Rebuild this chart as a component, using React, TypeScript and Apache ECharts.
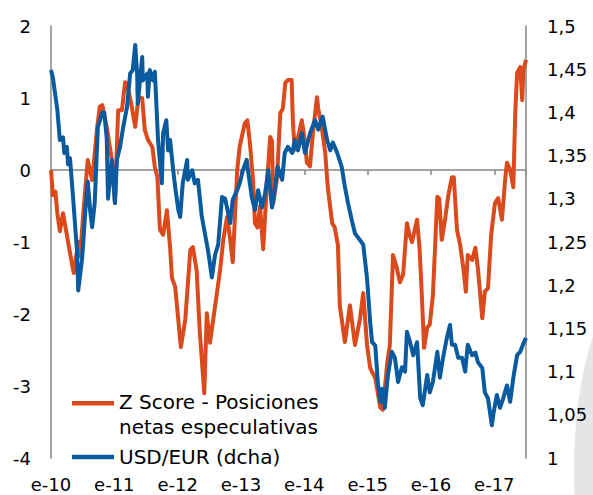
import React, { useEffect, useRef } from "react";
import * as echarts from "echarts";

// ---- Data (decimal years, values) ----
const zScoreDates = [
  2010.0, 2010.03, 2010.07, 2010.1, 2010.14, 2010.19, 2010.22, 2010.27, 2010.33, 2010.36,
  2010.43, 2010.46, 2010.51, 2010.58, 2010.65, 2010.73, 2010.77, 2010.81, 2010.88, 2010.96,
  2011.01, 2011.06, 2011.12, 2011.17, 2011.2, 2011.26, 2011.33, 2011.38, 2011.44, 2011.48,
  2011.53, 2011.6, 2011.64, 2011.68, 2011.72, 2011.77, 2011.83, 2011.88, 2011.91, 2011.96,
  2012.0, 2012.05, 2012.12, 2012.2, 2012.24, 2012.3, 2012.35, 2012.42, 2012.46, 2012.51,
  2012.59, 2012.67, 2012.72, 2012.78, 2012.82, 2012.87, 2012.94, 2012.98, 2013.06, 2013.1,
  2013.14, 2013.19, 2013.22, 2013.26, 2013.3, 2013.35, 2013.41, 2013.46, 2013.49, 2013.51,
  2013.57, 2013.62, 2013.66, 2013.7, 2013.74, 2013.8, 2013.82, 2013.85, 2013.9, 2013.96,
  2014.01, 2014.04, 2014.09, 2014.14, 2014.2, 2014.22, 2014.28, 2014.33, 2014.37, 2014.44,
  2014.48, 2014.53, 2014.56, 2014.64, 2014.72, 2014.8, 2014.88, 2014.93, 2014.99, 2015.04,
  2015.12, 2015.2, 2015.24, 2015.31, 2015.35, 2015.4, 2015.46, 2015.51, 2015.56, 2015.62,
  2015.66, 2015.7, 2015.78, 2015.82, 2015.86, 2015.89, 2015.94, 2015.98, 2016.03, 2016.1,
  2016.13, 2016.17, 2016.22, 2016.27, 2016.33, 2016.36, 2016.41, 2016.46, 2016.51, 2016.55,
  2016.58, 2016.65, 2016.7, 2016.74, 2016.81, 2016.85, 2016.9, 2016.95, 2017.01, 2017.06,
  2017.12, 2017.17, 2017.2, 2017.25, 2017.3, 2017.33, 2017.36, 2017.41, 2017.44, 2017.46,
  2017.5,
];
const zScoreValues = [
  0.0, -0.35, -0.3, -0.6, -0.85, -0.6, -0.75, -1.0, -1.3, -1.43,
  -1.0, -1.2, -0.6, 0.14, -0.14, 0.6, 0.88, 0.9, 0.6, 0.14,
  -0.46, 0.83, 0.83, 1.22, 1.2, 0.95, 0.6, 1.0, 1.0, 0.56,
  0.42, 0.32, 0.04, -0.1, -0.83, -0.9, -0.56, -1.07, -1.5, -1.62,
  -1.99, -2.46, -2.08, -1.11, -1.07, -1.4, -2.26, -3.1, -1.99, -2.4,
  -1.9, -1.39, -0.97, -0.65, -0.9, -1.28, 0.0, 0.33, 0.65, 0.69,
  0.38, -0.14, -0.74, -0.8, -0.5, -1.1, -0.2, 0.46, 0.4, -0.46,
  -0.1, 0.79, 0.85, 1.21, 1.25, 1.25, 0.65, 0.28, 0.45, 0.69,
  0.4, 0.1, 0.05, 0.56, 1.01, 0.85, 0.56, 0.24, -0.24, -0.74,
  -0.8, -1.04, -1.88, -2.39, -1.88, -2.43, -2.06, -1.71, -2.43, -2.75,
  -2.89, -3.3, -3.33, -2.67, -2.43, -1.18, -1.36, -1.56, -1.45, -0.74,
  -0.9, -1.0, -0.69, -1.1, -1.83, -2.47, -2.19, -2.15, -1.74, -0.37,
  -0.4, -0.97, -0.7, -0.37, -0.1, -0.1, -0.83, -1.04, -1.36, -1.69,
  -1.18, -1.25, -1.08, -1.36, -2.06, -1.69, -1.64, -0.9, -0.46, -0.39,
  -0.69, -0.14, 0.1, 0.0, -0.24, 0.79, 1.35, 1.43, 0.97, 1.39,
  1.53,
];

const usdEurDates = [
  2010.0, 2010.03, 2010.1, 2010.14, 2010.19, 2010.21, 2010.25, 2010.27, 2010.3, 2010.35,
  2010.41, 2010.43, 2010.49, 2010.51, 2010.54, 2010.58, 2010.62, 2010.65, 2010.69, 2010.74,
  2010.81, 2010.84, 2010.88, 2010.9, 2010.96, 2011.01, 2011.04, 2011.09, 2011.14, 2011.2,
  2011.25, 2011.29, 2011.33, 2011.36, 2011.37, 2011.44, 2011.45, 2011.52, 2011.53, 2011.56,
  2011.61, 2011.64, 2011.69, 2011.75, 2011.77, 2011.82, 2011.85, 2011.88, 2011.93, 2011.96,
  2012.01, 2012.04, 2012.08, 2012.15, 2012.16, 2012.23, 2012.27, 2012.32, 2012.38, 2012.43,
  2012.48, 2012.54, 2012.59, 2012.64, 2012.7, 2012.75, 2012.83, 2012.87, 2012.94, 2012.98,
  2013.03, 2013.09, 2013.11, 2013.17, 2013.22, 2013.27, 2013.33, 2013.38, 2013.43, 2013.49,
  2013.54, 2013.58, 2013.65, 2013.69, 2013.74, 2013.81, 2013.85, 2013.9, 2013.96, 2014.01,
  2014.09, 2014.17, 2014.22, 2014.29, 2014.36, 2014.41, 2014.45, 2014.52, 2014.59, 2014.64,
  2014.69, 2014.75, 2014.8, 2014.88, 2014.93, 2014.99, 2015.04, 2015.07, 2015.12, 2015.16,
  2015.2, 2015.23, 2015.27, 2015.32, 2015.38, 2015.43, 2015.48, 2015.54, 2015.59, 2015.62,
  2015.67, 2015.72, 2015.78, 2015.83, 2015.87, 2015.94, 2015.98, 2016.03, 2016.1, 2016.14,
  2016.19, 2016.25, 2016.3, 2016.33, 2016.38, 2016.43, 2016.49, 2016.54, 2016.58, 2016.65,
  2016.7, 2016.74, 2016.81, 2016.85, 2016.9, 2016.96, 2016.99, 2017.04, 2017.09, 2017.14,
  2017.2, 2017.25, 2017.3, 2017.36, 2017.41, 2017.45, 2017.5,
];
const usdEurValues = [
  1.449, 1.44, 1.403, 1.368, 1.371, 1.353, 1.36, 1.34, 1.347, 1.3,
  1.24, 1.194, 1.23, 1.25, 1.284, 1.32, 1.285, 1.267, 1.295, 1.383,
  1.4, 1.4, 1.37, 1.3, 1.345, 1.295, 1.345, 1.36, 1.383, 1.406,
  1.445, 1.449, 1.478, 1.445, 1.41, 1.464, 1.437, 1.445, 1.418, 1.449,
  1.437, 1.447, 1.368, 1.318, 1.376, 1.391, 1.356, 1.368, 1.333, 1.314,
  1.287, 1.279, 1.318, 1.345, 1.322, 1.333, 1.318, 1.322, 1.28, 1.26,
  1.24, 1.209, 1.235, 1.247, 1.302, 1.3, 1.272, 1.299, 1.31, 1.318,
  1.333, 1.345, 1.333, 1.302, 1.287, 1.31, 1.29, 1.306, 1.333, 1.29,
  1.314, 1.337, 1.322, 1.353, 1.36, 1.353, 1.368, 1.356, 1.376, 1.353,
  1.376, 1.391, 1.38, 1.395, 1.368, 1.356, 1.365, 1.353, 1.337, 1.314,
  1.295, 1.275, 1.26, 1.252, 1.247, 1.208, 1.157, 1.134, 1.13, 1.088,
  1.065, 1.08, 1.058, 1.096, 1.123, 1.116, 1.088, 1.105, 1.1, 1.146,
  1.134, 1.119, 1.134, 1.069, 1.061, 1.096, 1.076, 1.088, 1.123, 1.093,
  1.116, 1.139, 1.154, 1.131, 1.131, 1.116, 1.116, 1.1, 1.131, 1.119,
  1.122, 1.111, 1.104, 1.076, 1.069, 1.038, 1.053, 1.073, 1.058, 1.069,
  1.084, 1.065, 1.093, 1.119, 1.123, 1.131, 1.139,
];

const leftTicks = { min: -4, max: 2, interval: 1 };
const rightTicks = { min: 1, max: 1.5, interval: 0.05 };
const yearRange = { min: 2010, max: 2017.5 };

const Z_NAME = "Z Score - Posiciones netas especulativas";
const U_NAME = "USD/EUR (dcha)";

const ORANGE = "#DA4A1C";
const BLUE = "#0A5AA0";
const AXIS_GRAY = "#868686";
const FONT = "DejaVu Sans";

const ORANGE_ICON = "path://M0,0L42,0L42,4.5L0,4.5Z M0,27L0.01,27";
const BLUE_ICON = "path://M0,0L0.01,0 M0,11.25L42,11.25L42,15.75L0,15.75Z M0,27L0.01,27";

export default function App() {
  const ref = useRef<HTMLDivElement>(null);
  useEffect(() => {
    if (!ref.current) return;
    const chart = echarts.init(ref.current, undefined, { renderer: "svg" });
    const zData = zScoreDates.map((d, i) => [d, zScoreValues[i]]);
    const uData = usdEurDates.map((d, i) => [d, usdEurValues[i]]);
    chart.setOption({
      animation: false,
      grid: { left: 51, right: 67, top: 26, bottom: 37 },
      xAxis: [
        {
          type: "value",
          min: yearRange.min,
          max: yearRange.max,
          interval: 1,
          position: "top",
          axisLine: { show: true, onZero: true, lineStyle: { color: AXIS_GRAY, width: 1.5 } },
          axisTick: { show: true, inside: true, length: 5, lineStyle: { color: AXIS_GRAY, width: 1.5 } },
          axisLabel: { show: false },
          splitLine: { show: false },
        },
        {
          type: "value",
          min: yearRange.min,
          max: yearRange.max,
          interval: 1,
          position: "bottom",
          axisLine: { show: false, onZero: false },
          axisTick: { show: false },
          splitLine: { show: false },
          axisLabel: {
            margin: 17,
            color: "#000",
            fontFamily: FONT,
            fontSize: 18,
            showMaxLabel: false,
            formatter: (v: number) =>
              Math.abs(v - Math.round(v)) < 1e-6 ? "e-" + String(Math.round(v)).slice(2) : "",
          },
        },
      ],
      yAxis: [
        {
          type: "value",
          position: "left",
          min: leftTicks.min,
          max: leftTicks.max,
          interval: leftTicks.interval,
          axisLine: { show: true, onZero: false, lineStyle: { color: AXIS_GRAY, width: 1.5 } },
          axisTick: { show: false },
          splitLine: { show: false },
          axisLabel: { margin: 20, color: "#000", fontFamily: FONT, fontSize: 18 },
        },
        {
          type: "value",
          position: "right",
          min: rightTicks.min,
          max: rightTicks.max,
          interval: rightTicks.interval,
          axisLine: { show: true, onZero: false, lineStyle: { color: AXIS_GRAY, width: 1.5 } },
          axisTick: { show: false },
          splitLine: { show: false },
          axisLabel: {
            margin: 21,
            color: "#000",
            fontFamily: FONT,
            fontSize: 18,
            formatter: (v: number) => String(Math.round(v * 100) / 100).replace(".", ","),
          },
        },
      ],
      legend: {
        orient: "vertical",
        left: 72,
        top: 389.5,
        padding: 0,
        itemGap: 4,
        itemWidth: 42,
        itemHeight: 27,
        selectedMode: false,
        textStyle: { fontFamily: FONT, fontSize: 20, lineHeight: 25, color: "#000" },
        formatter: (name: string) =>
          name === Z_NAME ? "Z Score - Posiciones\nnetas especulativas" : name,
        data: [
          { name: Z_NAME, icon: ORANGE_ICON, itemStyle: { color: ORANGE, borderWidth: 0 } },
          { name: U_NAME, icon: BLUE_ICON, itemStyle: { color: BLUE, borderWidth: 0 } },
        ],
      },
      graphic: [
        {
          type: "ellipse",
          silent: true,
          z: -10,
          shape: { cx: 640, cy: 470, rx: 66, ry: 190 },
          style: { fill: "#e6e6e6" },
        },
      ],
      series: [
        {
          name: Z_NAME,
          type: "line",
          xAxisIndex: 0,
          yAxisIndex: 0,
          data: zData,
          showSymbol: false,
          symbol: "none",
          lineStyle: { color: ORANGE, width: 4, join: "round" },
          itemStyle: { color: ORANGE },
          z: 2,
        },
        {
          name: U_NAME,
          type: "line",
          xAxisIndex: 0,
          yAxisIndex: 1,
          data: uData,
          showSymbol: false,
          symbol: "none",
          lineStyle: { color: BLUE, width: 4, join: "round" },
          itemStyle: { color: BLUE },
          z: 3,
        },
      ],
    });
    return () => chart.dispose();
  }, []);
  return (
    <div
      ref={ref}
      style={{ position: "absolute", left: 0, top: 0, width: 593, height: 495, background: "#fff" }}
    />
  );
}
